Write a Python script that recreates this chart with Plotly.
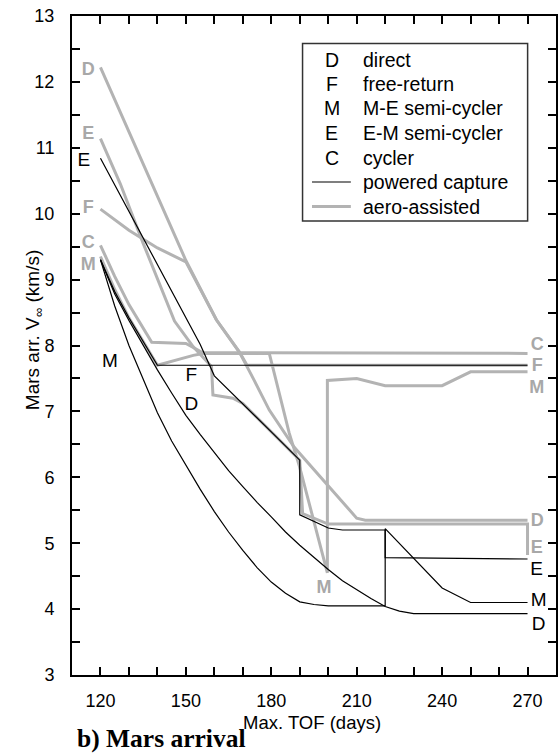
import plotly.graph_objects as go

# ---------------- data: Max. TOF (days) vs Mars arrival V_inf (km/s) ----------------
# powered capture (black)
pc_D_tof = [120, 125, 130, 135, 140, 145, 150, 155, 160, 165, 170, 175, 180, 185, 190, 195, 200, 205, 210, 215, 220, 225, 230, 270]
pc_D_vinf = [9.30, 8.78, 8.38, 8.00, 7.63, 7.28, 6.94, 6.65, 6.37, 6.10, 5.86, 5.62, 5.40, 5.17, 4.97, 4.78, 4.60, 4.43, 4.29, 4.16, 4.04, 3.97, 3.93, 3.93]

pc_F_tof = [120, 125, 130, 135, 140, 270]
pc_F_vinf = [9.30, 8.82, 8.42, 8.05, 7.70, 7.70]

pc_M_tof = [120, 125, 130, 135, 140, 145, 150, 155, 160, 165, 170, 175, 180, 185, 190, 195, 200, 220, 220, 229, 240, 250, 270]
pc_M_vinf = [9.30, 8.60, 8.00, 7.48, 6.98, 6.55, 6.18, 5.82, 5.48, 5.17, 4.89, 4.63, 4.41, 4.24, 4.11, 4.07, 4.05, 4.05, 5.22, 4.82, 4.32, 4.10, 4.10]

pc_E_tof = [120, 130, 140, 150, 155, 160, 170, 180, 190, 190, 200, 205, 220, 220, 270]
pc_E_vinf = [10.84, 10.03, 9.22, 8.41, 8.02, 7.54, 7.12, 6.69, 6.26, 5.43, 5.23, 5.20, 5.20, 4.78, 4.76]

# aero-assisted (gray)
aa_D_tof = [120, 130, 140, 150, 160.7, 168.8, 174, 179.3, 188, 200, 210, 213, 270]
aa_D_vinf = [12.22, 11.25, 10.27, 9.29, 8.39, 7.90, 7.47, 7.02, 6.46, 5.87, 5.38, 5.35, 5.35]

aa_F_tof = [120, 130, 140, 150, 160.7, 168.8, 171.5, 270]
aa_F_vinf = [10.07, 9.75, 9.48, 9.27, 8.39, 7.90, 7.70, 7.70]

aa_M_tof = [120, 125, 130, 135, 140, 152.6, 156, 179.3, 186.3, 190, 199.1, 199.7, 199.7, 210, 220, 240, 250, 270]
aa_M_vinf = [9.35, 8.85, 8.42, 8.05, 7.70, 7.85, 7.88, 7.88, 6.67, 6.15, 4.64, 4.55, 7.47, 7.50, 7.39, 7.39, 7.60, 7.60]

aa_E_tof = [120, 127, 135, 140, 146, 152.6, 159, 159.5, 166.5, 170, 180, 190, 191, 200, 270, 270]
aa_E_vinf = [11.14, 10.45, 9.55, 9.00, 8.37, 7.98, 7.68, 7.25, 7.20, 7.12, 6.69, 6.26, 5.45, 5.29, 5.29, 4.82]

aa_C_tof = [120, 125, 130, 135, 138, 150, 156, 270]
aa_C_vinf = [9.52, 9.05, 8.62, 8.25, 8.05, 8.03, 7.89, 7.88]

# curve letter labels
black_lbl_text = ["E", "M", "F", "D", "E", "M", "D"]
black_lbl_tof = [114.2, 123.3, 151.9, 151.9, 273.2, 273.9, 273.9]
black_lbl_vinf = [10.79, 7.75, 7.53, 7.10, 4.59, 4.12, 3.76]

gray_lbl_text = ["D", "E", "F", "C", "M", "C", "F", "M", "D", "E", "M"]
gray_lbl_tof = [115.7, 115.7, 115.7, 115.7, 115.7, 273.4, 273.4, 273.2, 273.4, 273.2, 198.5]
gray_lbl_vinf = [12.18, 11.2, 10.08, 9.55, 9.22, 8.0, 7.68, 7.35, 5.33, 4.92, 4.32]

# legend content
legend_letters = ["D", "F", "M", "E", "C"]
legend_names = ["direct", "free-return", "M-E semi-cycler", "E-M semi-cycler", "cycler"]
legend_line_names = ["powered capture", "aero-assisted"]

x_major = [120, 150, 180, 210, 240, 270]
y_major = [3, 4, 5, 6, 7, 8, 9, 10, 11, 12, 13]

# ---------------- figure ----------------
GRAY = "#b3b3b3"
FONT = "Liberation Sans, Arial, sans-serif"
W, H = 559, 754
ML, MR, MT, MB = 72, 1, 16, 79
PW, PH = W - ML - MR, H - MT - MB


def fx(px):
    return (px - ML) / PW


def fy(py):
    return 1 - (py - MT) / PH


fig = go.Figure()

for xs, ys in [(aa_D_tof, aa_D_vinf), (aa_F_tof, aa_F_vinf), (aa_M_tof, aa_M_vinf),
               (aa_E_tof, aa_E_vinf), (aa_C_tof, aa_C_vinf)]:
    fig.add_trace(go.Scatter(x=xs, y=ys, mode="lines", line=dict(color=GRAY, width=3),
                             showlegend=False, hoverinfo="skip"))

for xs, ys in [(pc_D_tof, pc_D_vinf), (pc_F_tof, pc_F_vinf), (pc_M_tof, pc_M_vinf),
               (pc_E_tof, pc_E_vinf)]:
    fig.add_trace(go.Scatter(x=xs, y=ys, mode="lines", line=dict(color="black", width=1.2),
                             showlegend=False, hoverinfo="skip"))

fig.add_trace(go.Scatter(x=gray_lbl_tof, y=gray_lbl_vinf, mode="text", text=["<b>%s</b>" % t for t in gray_lbl_text],
                         textfont=dict(family=FONT, size=18, color="#a8a8a8"),
                         showlegend=False, hoverinfo="skip", cliponaxis=False))
fig.add_trace(go.Scatter(x=black_lbl_tof, y=black_lbl_vinf, mode="text", text=black_lbl_text,
                         textfont=dict(family=FONT, size=19, color="black"),
                         showlegend=False, hoverinfo="skip", cliponaxis=False))

# legend box (drawn manually)
shapes = [dict(type="rect", xref="paper", yref="paper", x0=fx(303.5), x1=fx(529.5), y0=fy(221), y1=fy(43.5),
               line=dict(color="#333333", width=1.5), fillcolor="white", layer="below")]
annots = []
row_y = [59.5, 84, 108.5, 133, 157.5, 182, 206.5]
LEG_SIZE = 19.5
for i, (let, name) in enumerate(zip(legend_letters, legend_names)):
    annots.append(dict(x=fx(332.7), y=fy(row_y[i]), xref="paper", yref="paper", text=let, showarrow=False,
                       xanchor="center", yanchor="middle", font=dict(family=FONT, size=LEG_SIZE, color="black")))
    annots.append(dict(x=fx(362), y=fy(row_y[i]), xref="paper", yref="paper", text=name, showarrow=False,
                       xanchor="left", yanchor="middle", font=dict(family=FONT, size=LEG_SIZE, color="black")))
for j, (name, col, wd) in enumerate(zip(legend_line_names, ["black", GRAY], [1.2, 3])):
    yy = row_y[5 + j]
    shapes.append(dict(type="line", xref="paper", yref="paper", x0=fx(313), x1=fx(352), y0=fy(yy), y1=fy(yy),
                       line=dict(color=col, width=wd)))
    annots.append(dict(x=fx(362), y=fy(yy), xref="paper", yref="paper", text=name, showarrow=False,
                       xanchor="left", yanchor="middle", font=dict(family=FONT, size=LEG_SIZE, color="black")))

# axis titles and caption
annots.append(dict(x=fx(34), y=fy(330), xref="paper", yref="paper", text="Mars arr. V<sub>∞</sub> (km/s)",
                   textangle=-90, showarrow=False, xanchor="center", yanchor="middle",
                   font=dict(family=FONT, size=19, color="black")))
annots.append(dict(x=fx(313), y=fy(722), xref="paper", yref="paper", text="Max. TOF (days)",
                   showarrow=False, xanchor="center", yanchor="middle",
                   font=dict(family=FONT, size=18.5, color="black")))
annots.append(dict(x=fx(75), y=fy(739), xref="paper", yref="paper", text="<b>b) Mars arrival</b>",
                   showarrow=False, xanchor="left", yanchor="middle",
                   font=dict(family="Liberation Serif, Times New Roman, serif", size=25.5, color="black")))

axis_common = dict(showgrid=False, zeroline=False, showline=True, linecolor="black", linewidth=2,
                   mirror="ticks", ticks="inside", ticklen=8, tickwidth=1.5, tickcolor="black",
                   tickfont=dict(family=FONT, size=18, color="black"))

fig.update_layout(
    width=W, height=H, margin=dict(l=ML, r=MR, t=MT, b=MB, pad=0),
    paper_bgcolor="white", plot_bgcolor="white",
    xaxis=dict(range=[110, 280], tickmode="array", tickvals=x_major,
               minor=dict(tickmode="linear", tick0=110, dtick=10, ticks="inside", ticklen=8,
                          tickwidth=1.5, tickcolor="black", showgrid=False),
               ticklabelstandoff=8, **axis_common),
    yaxis=dict(range=[3, 13], tickmode="array", tickvals=y_major,
               minor=dict(tickmode="linear", tick0=3, dtick=0.5, ticks="inside", ticklen=8,
                          tickwidth=1.5, tickcolor="black", showgrid=False),
               ticklabelstandoff=12, **axis_common),
    shapes=shapes, annotations=annots, showlegend=False,
)

fig.write_html("out.html")
